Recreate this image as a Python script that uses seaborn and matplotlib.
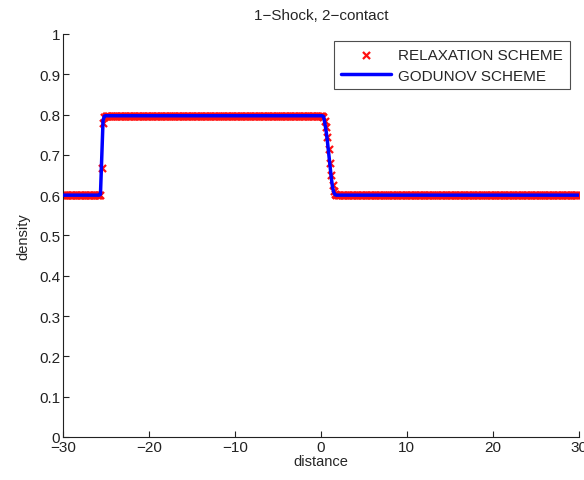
import numpy as np
import pandas as pd
import matplotlib
matplotlib.use("Agg")
import matplotlib.pyplot as plt
import seaborn as sns

# Computational grid
x_min, x_max, n_cells = -30.0, 30.0, 401

# Constant states of the Riemann solution
rho_left = 0.60
rho_middle = 0.797
rho_right = 0.60

# Relaxation scheme: values across the 1-shock and the 2-contact
relax_shock_x = [-25.65, -25.50, -25.35, -25.20]
relax_shock_rho = [0.601, 0.667, 0.780, 0.795]
relax_contact_x = [0.30, 0.45, 0.60, 0.75, 0.90, 1.05, 1.20, 1.35, 1.50, 1.65]
relax_contact_rho = [0.795, 0.785, 0.770, 0.745, 0.715, 0.680, 0.650, 0.625, 0.610, 0.603]

# Godunov scheme: values across the 1-shock and the 2-contact
god_shock_x = [-25.65, -25.50, -25.35, -25.20]
god_shock_rho = [0.602, 0.690, 0.785, 0.796]
god_contact_x = [0.30, 0.45, 0.60, 0.75, 0.90, 1.05, 1.20, 1.35, 1.50, 1.65]
god_contact_rho = [0.795, 0.780, 0.760, 0.735, 0.705, 0.675, 0.645, 0.620, 0.607, 0.601]

x_ticks = [-30, -20, -10, 0, 10, 20, 30]
y_ticks = [0, 0.1, 0.2, 0.3, 0.4, 0.5, 0.6, 0.7, 0.8, 0.9, 1]
y_tick_labels = ["0", "0.1", "0.2", "0.3", "0.4", "0.5", "0.6", "0.7", "0.8", "0.9", "1"]


def profile(shock_x, shock_rho, contact_x, contact_rho):
    xs = np.linspace(x_min, x_max, n_cells)
    rho = np.where(xs < shock_x[0], rho_left,
                   np.where(xs <= contact_x[0], rho_middle, rho_right))
    for px, pr in zip(shock_x + contact_x, shock_rho + contact_rho):
        rho[np.argmin(np.abs(xs - px))] = pr
    return pd.DataFrame({"distance": xs, "density": rho})


relax = profile(relax_shock_x, relax_shock_rho, relax_contact_x, relax_contact_rho)
godunov = profile(god_shock_x, god_shock_rho, god_contact_x, god_contact_rho)

sns.set_style("ticks")
plt.rcParams["font.family"] = ["Liberation Sans", "DejaVu Sans"]
plt.rcParams["xtick.direction"] = "in"
plt.rcParams["ytick.direction"] = "in"

fig = plt.figure(figsize=(5.84, 4.81), dpi=100)
ax = fig.add_axes([0.108, 0.0894, 0.883, 0.838])

sns.scatterplot(data=relax, x="distance", y="density", ax=ax, marker="x",
                color="#ff1010", s=26, linewidth=1.6, label="RELAXATION SCHEME",
                zorder=2)
sns.lineplot(data=godunov, x="distance", y="density", ax=ax, color="blue",
             linewidth=2.5, label="GODUNOV SCHEME", zorder=3)

ax.set_xlim(x_min, x_max)
ax.set_ylim(0, 1)
ax.set_xticks(x_ticks)
ax.set_yticks(y_ticks)
ax.set_yticklabels(y_tick_labels)
ax.tick_params(labelsize=11, length=4, width=0.8, colors="#222222", pad=2)
for side in ["left", "bottom"]:
    ax.spines[side].set_color("#222222")
    ax.spines[side].set_linewidth(0.8)
sns.despine(ax=ax)

ax.set_xlabel("distance", fontsize=10.5, labelpad=0)
ax.set_ylabel("density", fontsize=10.5, labelpad=6)
ax.set_title("1\u2212Shock, 2\u2212contact", fontsize=11, pad=11)

leg = ax.legend(loc="upper right", bbox_to_anchor=(0.983, 0.983),
                borderaxespad=0, fontsize=11, frameon=True, fancybox=False,
                edgecolor="#222222", handlelength=3.3, handletextpad=0.45,
                borderpad=0.45, labelspacing=0.45)
leg.get_frame().set_linewidth(0.8)

fig.savefig("out.png", dpi=100, facecolor="white")
